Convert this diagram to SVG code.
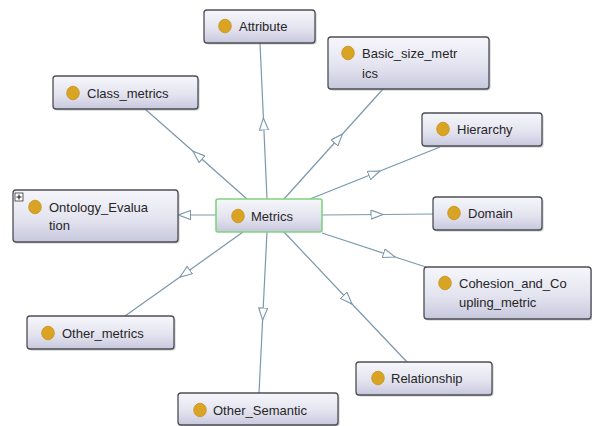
<svg xmlns="http://www.w3.org/2000/svg" width="592" height="426" viewBox="0 0 592 426">
  <defs>
    <linearGradient id="nodeFill" x1="0" y1="0" x2="0" y2="1">
      <stop offset="0" stop-color="#f6f6fb"/>
      <stop offset="0.55" stop-color="#e4e4f0"/>
      <stop offset="1" stop-color="#c8c8de"/>
    </linearGradient>
    <marker id="tri" viewBox="0 0 13 10" refX="12.5" refY="5" markerWidth="13" markerHeight="10" markerUnits="userSpaceOnUse" orient="auto">
      <path d="M0.5,0.5 L12.5,5 L0.5,9.5 Z" fill="#ffffff" stroke="#7b98ac" stroke-width="1.1"/>
    </marker>
  </defs>
  <style>
    .box { fill: url(#nodeFill); stroke: #4d4d55; stroke-width: 1.3; }
    .shadow { fill: #9a9aa6; opacity: 0.55; }
    .sel { fill: url(#nodeFill); stroke: #7fd47f; stroke-width: 1.6; }
    .dot { fill: #d9a323; stroke: #c8921a; stroke-width: 0.8; }
    .lbl { font-family: "Liberation Sans", Arial, sans-serif; font-size: 13px; fill: #262626; }
    .edge { fill: none; stroke: #7b98ac; stroke-width: 1.2; marker-mid: url(#tri); }
    .edge-end { fill: none; stroke: #7b98ac; stroke-width: 1.2; marker-end: url(#tri); }
  </style>
  <rect x="0" y="0" width="592" height="426" fill="#ffffff"/>

  <g id="connectors">
    <path class="edge" d="M267,199 L263.4,118 L260,43"/>
    <path class="edge" d="M284,199 L342.5,134 L383,89"/>
    <path class="edge" d="M247,199 L193,151.3 L145,109"/>
    <path class="edge" d="M310,199 L380,171 L440,147"/>
    <path class="edge" d="M322,215 L383,214.5 L433,214"/>
    <path class="edge" d="M322,233 L395,257 L426,267"/>
    <path class="edge" d="M284,232 L352,304 L407,362"/>
    <path class="edge" d="M267,232 L262.6,320 L259,393"/>
    <path class="edge" d="M243,232 L180,277 L125,316"/>
    <path class="edge-end" d="M216,215 L178.5,215"/>
  </g>

  <g id="node-attribute">
    <rect class="shadow" x="205.5" y="11.5" width="111" height="33" rx="3"/>
    <rect class="box" x="204" y="10" width="111" height="33" rx="3"/>
    <ellipse class="dot" cx="225" cy="26" rx="6.3" ry="6.8"/>
    <text class="lbl" x="239" y="31">Attribute</text>
  </g>

  <g id="node-basic-size-metrics">
    <rect class="shadow" x="329.5" y="38.5" width="161" height="52" rx="3"/>
    <rect class="box" x="328" y="37" width="161" height="52" rx="3"/>
    <ellipse class="dot" cx="348" cy="53" rx="6.3" ry="6.8"/>
    <text class="lbl" x="362" y="58">Basic_size_metr</text>
    <text class="lbl" x="362" y="78">ics</text>
  </g>

  <g id="node-class-metrics">
    <rect class="shadow" x="54.5" y="77.5" width="145" height="33" rx="3"/>
    <rect class="box" x="53" y="76" width="145" height="33" rx="3"/>
    <ellipse class="dot" cx="73" cy="93" rx="6.3" ry="6.8"/>
    <text class="lbl" x="87" y="98">Class_metrics</text>
  </g>

  <g id="node-hierarchy">
    <rect class="shadow" x="423.5" y="114.5" width="120" height="33" rx="3"/>
    <rect class="box" x="422" y="113" width="120" height="33" rx="3"/>
    <ellipse class="dot" cx="443" cy="129" rx="6.3" ry="6.8"/>
    <text class="lbl" x="457" y="134">Hierarchy</text>
  </g>

  <g id="node-domain">
    <rect class="shadow" x="434.5" y="198.5" width="109" height="33" rx="3"/>
    <rect class="box" x="433" y="197" width="109" height="33" rx="3"/>
    <ellipse class="dot" cx="454" cy="213" rx="6.3" ry="6.8"/>
    <text class="lbl" x="468" y="218">Domain</text>
  </g>

  <g id="node-ontology-evaluation">
    <rect class="shadow" x="14.5" y="191.5" width="165" height="52" rx="3"/>
    <rect class="box" x="13" y="190" width="165" height="52" rx="3"/>
    <rect x="15" y="193" width="8" height="8" fill="#ffffff" stroke="#333333" stroke-width="0.8"/>
    <path d="M16.5,197 L21.5,197 M19,194.5 L19,199.5" stroke="#111111" stroke-width="1"/>
    <ellipse class="dot" cx="35" cy="207" rx="6.3" ry="6.8"/>
    <text class="lbl" x="49" y="212">Ontology_Evalua</text>
    <text class="lbl" x="49" y="230">tion</text>
  </g>

  <g id="node-metrics">
    <rect class="sel" x="216" y="199" width="106" height="33" rx="2"/>
    <ellipse class="dot" cx="238" cy="216" rx="6.3" ry="6.8"/>
    <text class="lbl" x="251" y="221">Metrics</text>
  </g>

  <g id="node-cohesion-and-coupling-metric">
    <rect class="shadow" x="425.5" y="268.5" width="167" height="52" rx="3"/>
    <rect class="box" x="424" y="267" width="167" height="52" rx="3"/>
    <ellipse class="dot" cx="445" cy="283" rx="6.3" ry="6.8"/>
    <text class="lbl" x="459" y="288">Cohesion_and_Co</text>
    <text class="lbl" x="459" y="307">upling_metric</text>
  </g>

  <g id="node-relationship">
    <rect class="shadow" x="357.5" y="363.5" width="136" height="33" rx="3"/>
    <rect class="box" x="356" y="362" width="136" height="33" rx="3"/>
    <ellipse class="dot" cx="378" cy="378" rx="6.3" ry="6.8"/>
    <text class="lbl" x="391" y="383">Relationship</text>
  </g>

  <g id="node-other-semantic">
    <rect class="shadow" x="179.5" y="394.5" width="160" height="32" rx="3"/>
    <rect class="box" x="178" y="393" width="160" height="32" rx="3"/>
    <ellipse class="dot" cx="200" cy="410" rx="6.3" ry="6.8"/>
    <text class="lbl" x="213" y="415">Other_Semantic</text>
  </g>

  <g id="node-other-metrics">
    <rect class="shadow" x="28.5" y="317.5" width="147" height="33" rx="3"/>
    <rect class="box" x="27" y="316" width="147" height="33" rx="3"/>
    <ellipse class="dot" cx="48" cy="333" rx="6.3" ry="6.8"/>
    <text class="lbl" x="62" y="338">Other_metrics</text>
  </g>
</svg>
